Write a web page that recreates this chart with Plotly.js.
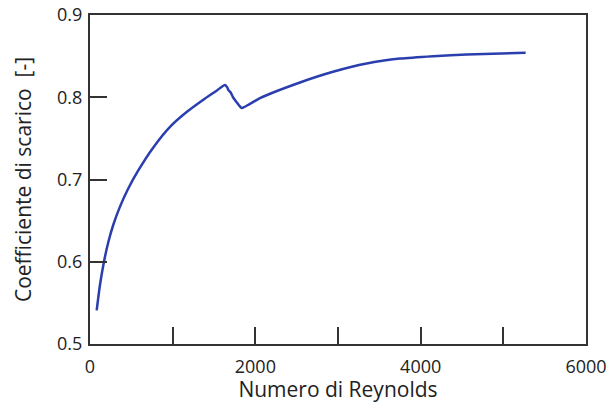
<!DOCTYPE html>
<html><head><meta charset="utf-8">
<script src="https://cdn.plot.ly/plotly-3.0.1.min.js"></script>
<style>html,body{margin:0;padding:0;background:#fff}#chart{width:609px;height:403px}</style>
</head><body><div id="chart"></div>
<script>
const reynolds = [81, 121, 169, 222, 282, 363, 463, 584, 766, 968, 1169, 1371, 1532, 1633, 1660, 1673, 1700, 1730, 1774, 1835, 1935, 2056, 2540, 2940, 3347, 3750, 4150, 4556, 5270];
const coeffScarico = [0.541, 0.572, 0.600, 0.624, 0.645, 0.667, 0.689, 0.711, 0.739, 0.764, 0.782, 0.797, 0.808, 0.815, 0.812, 0.809, 0.806, 0.800, 0.794, 0.787, 0.792, 0.799, 0.818, 0.831, 0.841, 0.847, 0.850, 0.852, 0.854];
const xTickVals = [0, 2000, 4000, 6000];
const yTickVals = [0.5, 0.6, 0.7, 0.8, 0.9];

const fontFam = '"Open Sans", sans-serif';
const axisCol = '#333333';
Plotly.newPlot('chart', [{
  x: reynolds, y: coeffScarico, type: 'scatter', mode: 'lines',
  line: {color: '#2a3eae', width: 2.5, shape: 'spline', smoothing: 0.7},
  hoverinfo: 'skip'
}], {
  width: 609, height: 403,
  margin: {l: 90, r: 23, t: 15, b: 59},
  paper_bgcolor: '#fff', plot_bgcolor: '#fff',
  showlegend: false,
  xaxis: {
    range: [0, 6000], tickvals: xTickVals, ticktext: xTickVals.map(String),
    ticks: 'inside', ticklen: 17, tickwidth: 2, tickcolor: axisCol,
    minor: {dtick: 1000, tick0: 0, ticks: 'inside', ticklen: 17, tickwidth: 2, tickcolor: axisCol},
    showline: true, linecolor: axisCol, linewidth: 2, mirror: true,
    showgrid: false, zeroline: false, ticklabelstandoff: 5,
    tickfont: {family: fontFam, size: 18, color: '#222'},
    title: {text: 'Numero di Reynolds', font: {family: fontFam, size: 21, color: '#222'}, standoff: 6}
  },
  yaxis: {
    range: [0.5, 0.9], tickvals: yTickVals, ticktext: yTickVals.map(v => v.toFixed(1)),
    ticks: 'inside', ticklen: 17, tickwidth: 2, tickcolor: axisCol,
    showline: true, linecolor: axisCol, linewidth: 2, mirror: true,
    showgrid: false, zeroline: false, ticklabelstandoff: 2,
    tickfont: {family: fontFam, size: 18, color: '#222'},
    title: {text: 'Coefficiente di scarico  [-]', font: {family: fontFam, size: 21, color: '#222'}, standoff: 20}
  }
}, {displayModeBar: false, staticPlot: true});
</script></body></html>
